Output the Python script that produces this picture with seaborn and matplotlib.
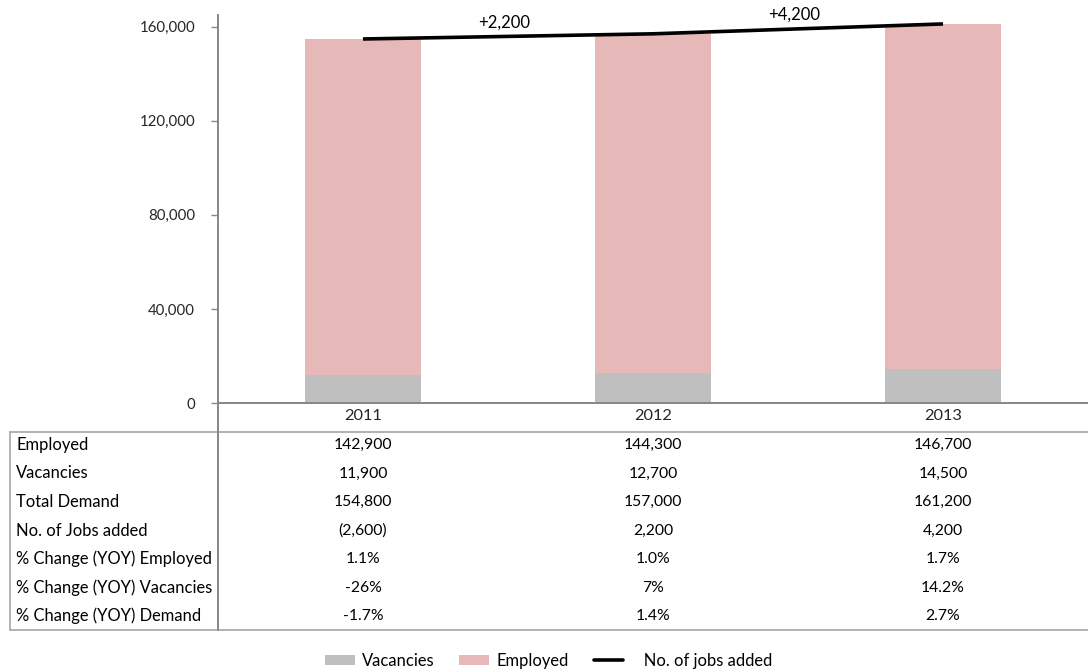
import matplotlib
matplotlib.use("Agg")
import matplotlib.pyplot as plt
import seaborn as sns
import pandas as pd
from matplotlib.transforms import blended_transform_factory
from matplotlib.patches import Patch
from matplotlib.lines import Line2D

# ---------------- data ----------------
years = ["2011", "2012", "2013"]
employed = [142900, 144300, 146700]
vacancies = [11900, 12700, 14500]
total_demand = [154800, 157000, 161200]
jobs_added = [-2600, 2200, 4200]
pct_employed = ["1.1%", "1.0%", "1.7%"]
pct_vacancies = ["-26%", "7%", "14.2%"]
pct_demand = ["-1.7%", "1.4%", "2.7%"]
row_labels = ["Employed", "Vacancies", "Total Demand", "No. of Jobs added",
              "% Change (YOY) Employed", "% Change (YOY) Vacancies",
              "% Change (YOY) Demand"]
y_ticks = [0, 40000, 80000, 120000, 160000]

PINK = "#E6B8B7"
GRAY = "#BFBFBF"
AXIS = "#868686"
GRID = "#A6A6A6"
FS_TXT = 11.9   # words
FS_NUM = 11.3   # numbers

sns.set_theme(style="white")
plt.rcParams["font.family"] = ["Lato", "DejaVu Sans"]
plt.rcParams["text.color"] = "black"

W, H = 1088, 670
fig = plt.figure(figsize=(W / 100, H / 100), dpi=100)
ax = fig.add_axes([218 / W, 1 - 403 / H, 1 - 218 / W, (403 - 15) / H])

df = pd.DataFrame({"Year": years, "Employed": employed,
                   "Vacancies": vacancies, "Total": total_demand})

sns.barplot(data=df, x="Year", y="Total", color=PINK, saturation=1,
            width=0.4, ax=ax, zorder=2, linewidth=0)
sns.barplot(data=df, x="Year", y="Vacancies", color=GRAY, saturation=1,
            width=0.4, ax=ax, zorder=2, linewidth=0)
xpos = list(range(len(years)))
ax.plot(xpos, total_demand, color="black", lw=2.6, zorder=3,
        solid_capstyle="butt")

for i in range(1, len(years)):
    xm = (xpos[i - 1] + xpos[i]) / 2
    ym = (total_demand[i - 1] + total_demand[i]) / 2
    ax.annotate(f"+{jobs_added[i]:,}", (xm, ym), xytext=(-3, 10),
                textcoords="offset points", ha="center", va="center",
                fontsize=FS_NUM + 0.7)

ax.set_xlim(-0.5, 2.5)
ax.set_ylim(0, 165000)
ax.set_yticks(y_ticks)
ax.set_yticklabels([f"{v:,}" for v in y_ticks])
ax.set_xlabel("")
ax.set_ylabel("")
for s in ["top", "right"]:
    ax.spines[s].set_visible(False)
for s in ["left", "bottom"]:
    ax.spines[s].set_color(AXIS)
    ax.spines[s].set_linewidth(1.4)
ax.tick_params(axis="y", length=5, color=AXIS, width=1, pad=11.5,
               labelsize=FS_NUM - 0.5, left=True)
ax.tick_params(axis="x", length=0, pad=4, labelsize=FS_NUM + 0.5)

# ---------------- table ----------------
tax = fig.add_axes([0, 0, 1, 1], facecolor="none")
tax.set_xlim(0, W)
tax.set_ylim(H, 0)
tax.axis("off")
trans = blended_transform_factory(ax.transData, tax.transData)

def fmt_num(v):
    return f"({abs(v):,})" if v < 0 else f"{v:,}"

rows = [
    [fmt_num(v) for v in employed],
    [fmt_num(v) for v in vacancies],
    [fmt_num(v) for v in total_demand],
    [fmt_num(v) for v in jobs_added],
    pct_employed,
    pct_vacancies,
    pct_demand,
]
row_y0, row_h = 445, 28.5
for r, (lab, vals) in enumerate(zip(row_labels, rows)):
    y = row_y0 + r * row_h
    tax.text(16, y, lab, ha="left", va="center", fontsize=FS_TXT)
    for i, v in enumerate(vals):
        tax.text(xpos[i], y, v, ha="center", va="center", fontsize=FS_NUM,
                 transform=trans)

tax.plot([10, W], [432, 432], color=GRID, lw=1.2, clip_on=False)
tax.plot([10, W], [630, 630], color=GRID, lw=1.2, clip_on=False)
tax.plot([10, 10], [432, 630], color=GRID, lw=1.2, clip_on=False)
tax.plot([218, 218], [403, 630], color=AXIS, lw=1.4, clip_on=False)

# ---------------- legend ----------------
handles = [Patch(facecolor=GRAY, edgecolor="none"),
           Patch(facecolor=PINK, edgecolor="none"),
           Line2D([], [], color="black", lw=2.6)]
fig.legend(handles, ["Vacancies", "Employed", "   No. of jobs added"],
           loc="center left", bbox_to_anchor=(310 / W, 1 - 661 / H),
           ncol=3, frameon=False, fontsize=FS_TXT, handlelength=1.8,
           handleheight=0.6, columnspacing=1.5, handletextpad=0.45)

fig.savefig("out.png", dpi=100)
